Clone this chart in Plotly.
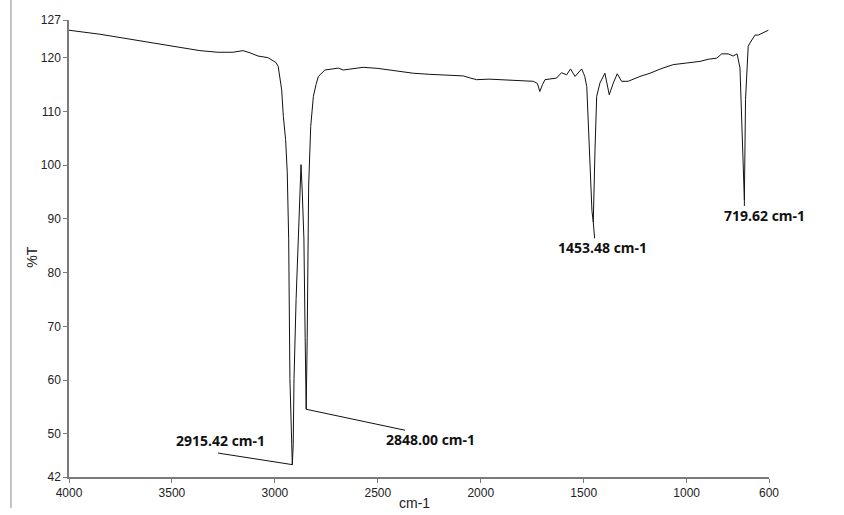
import plotly.graph_objects as go

# FT-IR spectrum: wavenumber (cm-1) vs transmittance (%T)
wavenumber = [
    4000, 3849, 3364, 3277, 3204, 3155, 3121, 3082, 3034, 2995,
    2984, 2975, 2967, 2959, 2948, 2940, 2933, 2927, 2920, 2915.42,
    2911, 2907, 2897, 2886, 2879, 2873, 2867, 2859, 2853, 2848.00,
    2843, 2838, 2836, 2826, 2813, 2800, 2789, 2757, 2720, 2692,
    2668, 2620, 2571, 2500, 2441, 2380, 2328, 2250, 2150, 2085,
    2050, 2020, 1960, 1907, 1800, 1745, 1725, 1713, 1700, 1688,
    1632, 1608, 1583, 1564, 1542, 1525, 1510, 1500, 1495, 1485,
    1475, 1466, 1460, 1453.48, 1449, 1445, 1437, 1421, 1397, 1376,
    1356, 1337, 1316, 1284, 1227, 1178, 1120, 1065, 1000, 935,
    895, 854, 830, 798, 774, 755, 741, 736, 728, 719.62,
    714, 709, 701, 693, 668, 652, 603,
]
transmittance = [
    125.1, 124.35, 121.3, 121.0, 121.0, 121.3, 120.9, 120.3, 120.0, 119.1,
    118.4, 116.3, 114.0, 109.1, 104.8, 98.7, 86.3, 60.3, 47.0, 44.3,
    48.0, 60.3, 75.0, 86.3, 95.0, 100.1, 95.0, 86.3, 68.0, 54.6,
    68.0, 86.0, 96.1, 107.2, 112.8, 115.0, 116.5, 117.7, 117.9, 118.05,
    117.7, 118.0, 118.2, 118.0, 117.7, 117.4, 117.1, 116.9, 116.8, 116.6,
    116.2, 115.9, 116.0, 115.9, 115.8, 115.6, 115.2, 113.7, 115.0, 115.9,
    116.2, 117.2, 116.8, 117.9, 116.5, 117.3, 117.9, 117.0, 116.5, 114.6,
    106.0, 96.8, 91.5, 89.4, 98.0, 103.0, 112.8, 115.3, 117.1, 113.1,
    115.3, 117.0, 115.6, 115.6, 116.5, 117.1, 118.0, 118.7, 119.0, 119.3,
    119.7, 119.9, 120.7, 120.7, 120.3, 120.7, 118.1, 112.0, 102.0, 93.5,
    112.2, 116.5, 122.1, 122.7, 124.2, 124.2, 125.1,
]

# Labelled absorption peaks
peak_wavenumber = [2915.42, 2848.00, 1453.48, 719.62]
peak_transmittance = [44.3, 54.6, 89.4, 93.5]

x_ticks = [4000, 3500, 3000, 2500, 2000, 1500, 1000, 600]
y_ticks = [42, 50, 60, 70, 80, 90, 100, 110, 120, 127]

# Where each label sits and where its leader line ends (wavenumber, %T)
label_pos = [(3262, 48.7), (2242, 48.9), (1411, 84.6), (622, 90.7)]
leader_end = [(3276, 46.45), (2368, 50.7), (1447, 86.4), (719.62, 92.4)]

fig = go.Figure()
fig.add_trace(go.Scatter(
    x=wavenumber, y=transmittance, mode="lines",
    line=dict(color="#111111", width=1),
    hoverinfo="x+y", showlegend=False,
))

for w, t, (lx, ly), (ex, ey) in zip(peak_wavenumber, peak_transmittance,
                                    label_pos, leader_end):
    fig.add_shape(type="line", xref="x", yref="y", x0=w, y0=t, x1=ex, y1=ey,
                  line=dict(color="#111111", width=1))
    fig.add_annotation(x=lx, y=ly, xref="x", yref="y", text=f"{w:.2f} cm-1",
                       showarrow=False,
                       font=dict(family="Open Sans", size=14, color="#111111",
                                 weight="bold"))

axis_common = dict(
    showgrid=False, zeroline=False, showline=True,
    linecolor="#7a7a7a", linewidth=1.5,
    ticks="outside", ticklen=4, tickcolor="#7a7a7a", tickwidth=1,
    tickfont=dict(family="Liberation Sans, Arial", size=12, color="#222222"),
)

fig.update_xaxes(range=[4000, 600], tickvals=x_ticks, **axis_common)
fig.update_yaxes(range=[42, 127], tickvals=y_ticks, **axis_common)

# Axis titles
fig.add_annotation(x=0.494, y=-0.057, xref="paper", yref="paper", text="cm-1",
                   showarrow=False, yanchor="middle",
                   font=dict(family="Liberation Sans, Arial", size=14, color="#222222"))
fig.add_annotation(x=-0.067, y=0.48, xref="paper", yref="paper", text="%T",
                   showarrow=False, textangle=-90,
                   font=dict(family="Liberation Sans, Arial", size=14, color="#222222"))

# Left frame border
fig.add_shape(type="line", xref="paper", yref="paper",
              x0=-0.0829, x1=-0.0829, y0=1.05, y1=-0.068,
              line=dict(color="#8a8a8a", width=1))

fig.update_layout(
    width=844, height=515,
    margin=dict(l=69, r=75, t=20, b=38),
    paper_bgcolor="white", plot_bgcolor="white",
    showlegend=False,
)

fig.write_html("out.html")
